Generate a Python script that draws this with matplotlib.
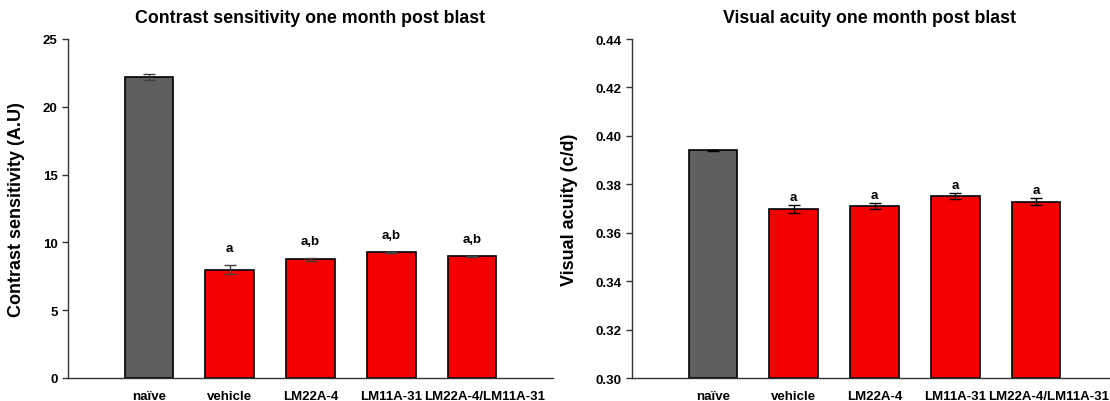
import matplotlib
matplotlib.use("Agg")
import matplotlib.pyplot as plt
from matplotlib.transforms import ScaledTranslation

plt.rcParams['font.family'] = ['Liberation Sans', 'DejaVu Sans']
plt.rcParams['font.weight'] = 'bold'

groups = ["naïve", "vehicle", "LM22A-4", "LM11A-31", "LM22A-4/LM11A-31"]

cs_mean = [22.2, 8.0, 8.75, 9.27, 8.98]
cs_err = [0.2, 0.36, 0.1, 0.05, 0.03]
cs_marks = ["", "a", "a,b", "a,b", "a,b"]

va_mean = [0.3940, 0.3697, 0.3710, 0.3750, 0.3728]
va_err = [0.0002, 0.0016, 0.0013, 0.0012, 0.0014]
va_marks = ["", "a", "a", "a", "a"]

bar_colors = ["#5f5f5f", "#f50000", "#f50000", "#f50000", "#f50000"]

W, H = 1110, 402
fig = plt.figure(figsize=(W / 100, H / 100), dpi=100)

ax1 = fig.add_axes([68 / W, (H - 379) / H, 485 / W, 339 / H])
ax2 = fig.add_axes([632 / W, (H - 379) / H, 485 / W, 339 / H])


def draw_panel(ax, means, errs, marks, ylim, yticks, fmt, title, ylabel,
               label_x, mark_offset, ecolor):
    x = list(range(len(groups)))
    ax.bar(x, [m - ylim[0] for m in means], bottom=ylim[0], width=0.6,
           color=bar_colors, edgecolor="black", linewidth=1.2, zorder=2)
    ax.errorbar(x, means, yerr=errs, fmt="none", ecolor=ecolor,
                elinewidth=1.0, capsize=4, capthick=1.0, zorder=3)
    for xi, m, e, t in zip(x, means, errs, marks):
        if t:
            ax.annotate(t, (xi, m + e), xytext=(0, mark_offset),
                        textcoords="offset pixels", ha="center", va="center",
                        fontsize=9.5, fontweight="bold")
    ax.set_xlim(-1, 5)
    ax.set_ylim(*ylim)
    ax.set_yticks(yticks)
    ax.set_yticklabels([fmt.format(v) for v in yticks])
    ax.set_xticks(x)
    ax.set_xticklabels(groups)
    for s in ("top", "right"):
        ax.spines[s].set_visible(False)
    for s in ("left", "bottom"):
        ax.spines[s].set_color("#333333")
        ax.spines[s].set_linewidth(1.0)
    ax.tick_params(axis="y", direction="out", length=4.5, width=1.0,
                   pad=3, labelsize=9.5, colors="black")
    ax.tick_params(axis="y", color="#333333")
    ax.tick_params(axis="x", length=0, pad=9, labelsize=9.5)
    ax.set_title(title, fontsize=12.8, fontweight="bold", pad=12)
    ax.set_ylabel(ylabel, fontsize=13, fontweight="bold")
    ax.yaxis.set_label_coords(label_x, 0.5)
    # the long last group name sits a little to the right of its bar
    last = ax.get_xticklabels()[-1]
    last.set_transform(last.get_transform() +
                       ScaledTranslation(12 / 100, 0, fig.dpi_scale_trans))


draw_panel(ax1, cs_mean, cs_err, cs_marks, (0, 25), [0, 5, 10, 15, 20, 25],
           "{:d}", "Contrast sensitivity one month post blast",
           "Contrast sensitivity (A.U)", -0.089, 17, "#404040")
draw_panel(ax2, va_mean, va_err, va_marks, (0.30, 0.44),
           [0.30, 0.32, 0.34, 0.36, 0.38, 0.40, 0.42, 0.44],
           "{:.2f}", "Visual acuity one month post blast",
           "Visual acuity (c/d)", -0.111, 8, "black")

# keep the second title centred over its visible span
ax2.title.set_position((0.49, 1.0))

fig.savefig("out.png", dpi=100)
